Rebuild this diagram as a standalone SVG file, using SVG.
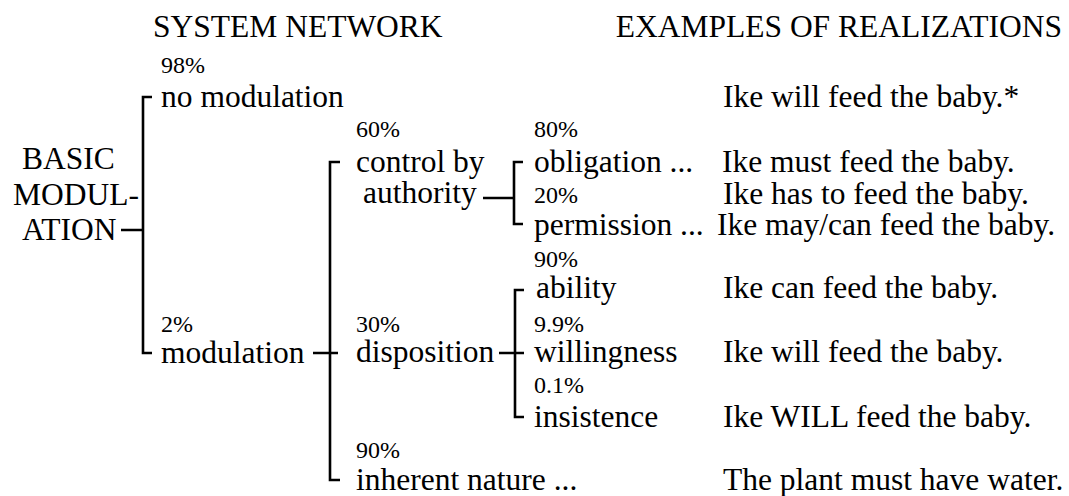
<svg xmlns="http://www.w3.org/2000/svg" width="1069" height="496" viewBox="0 0 1069 496" font-family="'Liberation Serif', 'Times New Roman', 'DejaVu Serif', serif">
<style>
text{font-family:'Liberation Serif','Times New Roman','DejaVu Serif',serif;fill:#000}
.m{font-size:31.5px}
.s{font-size:24px}
.c{fill:none;stroke:#000;stroke-width:2.6}
</style>
<rect width="1069" height="496" fill="#fff"/>
<g id="headers">
<text class="m" x="153" y="37">SYSTEM NETWORK</text>
<text class="m" x="1062" y="37" text-anchor="end">EXAMPLES OF REALIZATIONS</text>
</g>
<g id="connectors">
<path class="c" d="M121 230H143M152 97H143V353H152"/>
<path class="c" d="M313 353H338M340 162H330V480H340"/>
<path class="c" d="M483 198H514M523 162H514V224H523"/>
<path class="c" d="M499 353H524M524 290H515V417H524"/>
</g>
<g id="node-basic">
<text class="m" x="22" y="169">BASIC</text>
<text class="m" x="13" y="205">MODUL-</text>
<text class="m" x="22" y="240">ATION</text>
</g>
<g id="node-no-modulation">
<text class="s" x="161" y="73">98%</text>
<text class="m" x="161" y="107">no modulation</text>
</g>
<g id="node-modulation">
<text class="s" x="161" y="332">2%</text>
<text class="m" x="161" y="363">modulation</text>
</g>
<g id="node-control">
<text class="s" x="356" y="137">60%</text>
<text class="m" x="356" y="172">control by</text>
<text class="m" x="363" y="203">authority</text>
</g>
<g id="node-disposition">
<text class="s" x="356" y="332">30%</text>
<text class="m" x="356" y="362">disposition</text>
</g>
<g id="node-inherent">
<text class="s" x="356" y="458">90%</text>
<text class="m" x="356" y="490">inherent nature ...</text>
</g>
<g id="node-obligation">
<text class="s" x="534" y="137">80%</text>
<text class="m" x="534" y="172">obligation ...</text>
</g>
<g id="node-permission">
<text class="s" x="534" y="203">20%</text>
<text class="m" x="534" y="235">permission ...</text>
</g>
<g id="node-ability">
<text class="s" x="534" y="267">90%</text>
<text class="m" x="536" y="298">ability</text>
</g>
<g id="node-willingness">
<text class="s" x="534" y="332">9.9%</text>
<text class="m" x="534" y="362">willingness</text>
</g>
<g id="node-insistence">
<text class="s" x="534" y="393">0.1%</text>
<text class="m" x="534" y="427">insistence</text>
</g>
<g id="examples">
<text class="m" x="723" y="107">Ike will feed the baby.*</text>
<text class="m" x="722" y="172">Ike must feed the baby.</text>
<text class="m" x="723" y="204">Ike has to feed the baby.</text>
<text class="m" x="717" y="235">Ike may/can feed the baby.</text>
<text class="m" x="723" y="298">Ike can feed the baby.</text>
<text class="m" x="723" y="362">Ike will feed the baby.</text>
<text class="m" x="723" y="427">Ike WILL feed the baby.</text>
<text class="m" x="723" y="490">The plant must have water.</text>
</g>
</svg>
